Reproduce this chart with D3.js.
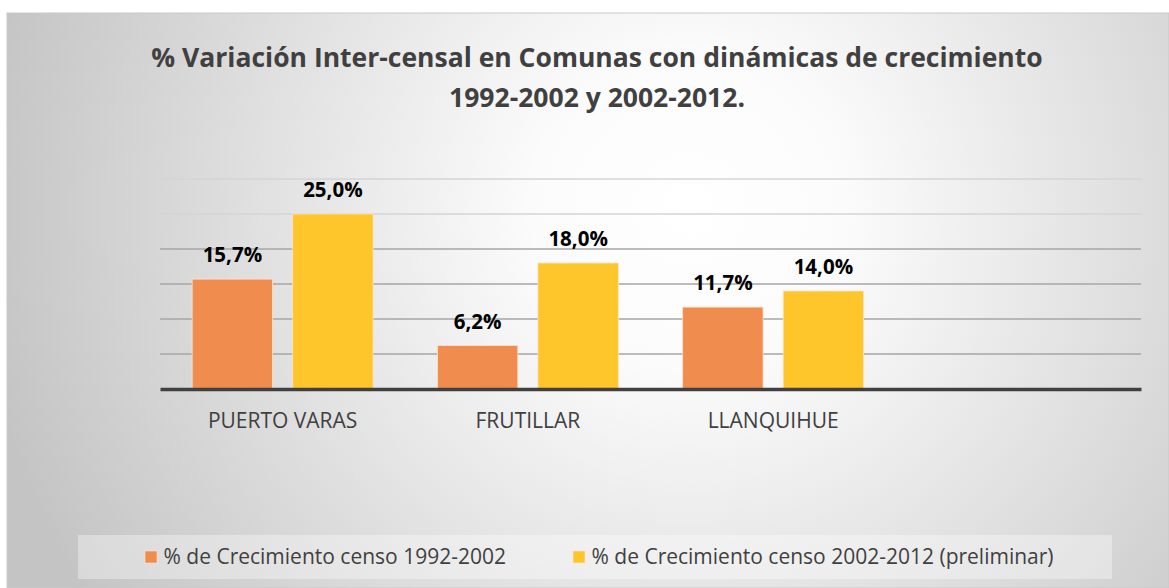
<!DOCTYPE html>
<html>
<head>
<meta charset="utf-8">
<script src="https://cdn.jsdelivr.net/npm/d3@7"></script>
<style>
  html, body { margin: 0; padding: 0; background: #fff; }
  svg { display: block; font-family: 'Open Sans', sans-serif; }
</style>
</head>
<body>
<svg id="chart" width="1169" height="588"></svg>
<script>
const categories = ['PUERTO VARAS', 'FRUTILLAR', 'LLANQUIHUE', ''];
const seriesNames = ['% de Crecimiento censo 1992-2002', '% de Crecimiento censo 2002-2012 (preliminar)'];
const growth1992 = [0.157, 0.062, 0.117, null];
const growth2002 = [0.25, 0.18, 0.14, null];
const seriesColors = ['#ef8c4e', '#ffc62b'];
const yTicks = [0, 0.05, 0.10, 0.15, 0.20, 0.25, 0.30];

const svg = d3.select('#chart');
const W = 1169;
const H = 588;

// fondo con degradado radial
const defs = svg.append('defs');
const grad = defs.append('radialGradient')
  .attr('id', 'bg')
  .attr('gradientUnits', 'userSpaceOnUse')
  .attr('cx', 690).attr('cy', 210).attr('r', 720);
grad.append('stop').attr('offset', '0%').attr('stop-color', '#ffffff');
grad.append('stop').attr('offset', '22%').attr('stop-color', '#fbfbfb');
grad.append('stop').attr('offset', '100%').attr('stop-color', '#c4c4c4');

svg.append('rect')
  .attr('x', 7).attr('y', 13)
  .attr('width', W - 7).attr('height', H - 13)
  .attr('fill', 'url(#bg)')
  .attr('stroke', '#c9c9c9')
  .attr('stroke-width', 1);

// titulo
const title = svg.append('text')
  .attr('text-anchor', 'middle')
  .attr('fill', '#404040')
  .attr('font-size', 26.5)
  .attr('font-weight', 'bold');
title.append('tspan').attr('x', 597).attr('y', 67).text('% Variación Inter-censal en Comunas con dinámicas de crecimiento');
title.append('tspan').attr('x', 597).attr('y', 107).text('1992-2002 y 2002-2012.');

const plot = { left: 160, right: 1141, top: 179, bottom: 389 };

const x0 = d3.scaleBand()
  .domain(d3.range(categories.length))
  .range([plot.left, plot.right]);

const x1 = d3.scaleBand()
  .domain([0, 1])
  .range([0, x0.bandwidth()])
  .paddingInner(0.2)
  .paddingOuter(0.32);

const y = d3.scaleLinear()
  .domain([0, 0.30])
  .range([plot.bottom, plot.top]);

// lineas de grilla
svg.append('g')
  .selectAll('line')
  .data(yTicks.slice(1))
  .join('line')
  .attr('x1', plot.left).attr('x2', plot.right)
  .attr('y1', (d) => y(d)).attr('y2', (d) => y(d))
  .attr('stroke', (d, i) => (i >= 4 ? '#d4d4d4' : '#a6a6a6'))
  .attr('stroke-width', 1.3);

const locale = d3.formatLocale({ decimal: ',', thousands: '.', grouping: [3], currency: ['$', ''] });
const fmt = locale.format('.1%');

const series = [growth1992, growth2002];
const bars = [];
series.forEach((vals, s) => {
  vals.forEach((v, i) => {
    if (v != null) bars.push({ s, i, v });
  });
});

svg.append('g')
  .selectAll('rect')
  .data(bars)
  .join('rect')
  .attr('x', (d) => x0(d.i) + x1(d.s))
  .attr('y', (d) => y(d.v))
  .attr('width', x1.bandwidth())
  .attr('height', (d) => y(0) - y(d.v))
  .attr('fill', (d) => seriesColors[d.s])
  .attr('stroke', '#fbe3cf')
  .attr('stroke-width', 0.8);

svg.append('g')
  .selectAll('text')
  .data(bars)
  .join('text')
  .attr('x', (d) => x0(d.i) + x1(d.s) + x1.bandwidth() / 2)
  .attr('y', (d) => y(d.v) - 17)
  .attr('text-anchor', 'middle')
  .attr('font-size', 20.5)
  .attr('font-weight', 'bold')
  .attr('fill', '#000')
  .text((d) => fmt(d.v));

// eje x
const xAxis = svg.append('g')
  .attr('transform', `translate(0,${plot.bottom})`)
  .call(d3.axisBottom(x0).tickSize(0).tickPadding(24).tickFormat((i) => categories[i]));
xAxis.select('.domain')
  .attr('stroke', '#404040')
  .attr('stroke-width', 3.5);
xAxis.selectAll('text')
  .attr('font-family', "'Open Sans', sans-serif")
  .attr('font-size', 21)
  .attr('fill', '#404040');

// leyenda
svg.append('rect')
  .attr('x', 78).attr('y', 535)
  .attr('width', 1034).attr('height', 44)
  .attr('fill', '#ffffff')
  .attr('fill-opacity', 0.35);

const legendX = [145, 573];
const legend = svg.append('g')
  .selectAll('g')
  .data(seriesNames)
  .join('g')
  .attr('transform', (d, i) => `translate(${legendX[i]},557)`);
legend.append('rect')
  .attr('x', 0).attr('y', -6)
  .attr('width', 12).attr('height', 12)
  .attr('fill', (d, i) => seriesColors[i])
  .attr('stroke', '#fbe3cf')
  .attr('stroke-width', 0.6);
legend.append('text')
  .attr('x', 18.5).attr('y', 7)
  .attr('font-size', 21)
  .attr('fill', '#404040')
  .text((d) => d);
</script>
</body>
</html>
